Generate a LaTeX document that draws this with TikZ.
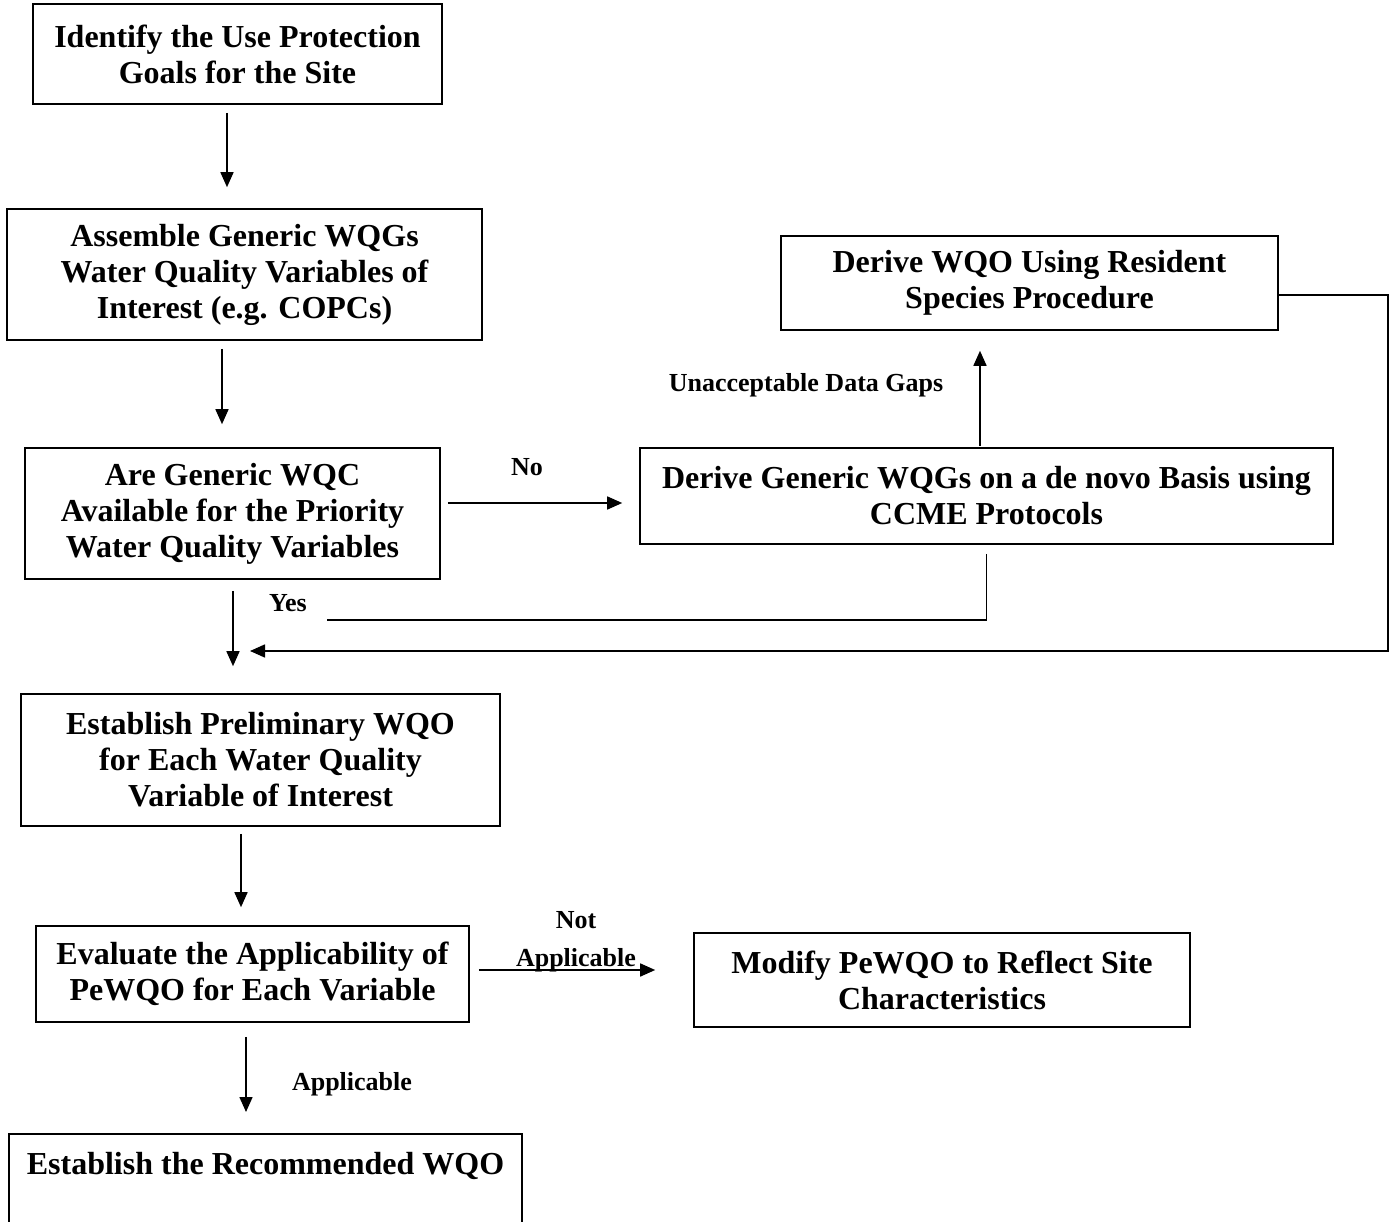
\documentclass[tikz,border=0pt]{standalone}
\usepackage{fontspec}
\setmainfont{Liberation Serif}
\usetikzlibrary{arrows.meta,calc}
\begin{document}
\begin{tikzpicture}[x=1pt,y=1pt,
  box/.style={draw,line width=1.6pt,align=center,inner sep=0pt,
    font=\fontsize{32}{36}\selectfont\bfseries,
    execute at begin node={\rule{0pt}{30pt}}},
  lbl/.style={inner sep=0pt,font=\fontsize{26}{30}\selectfont\bfseries},
  conn/.style={line width=1.6pt},
  arr/.style={conn,-{Triangle[length=15pt,width=13pt]}}]
\useasboundingbox (0,0) rectangle (1390,-1222);
\clip (0,0) rectangle (1390,-1222);
% boxes
\node[box,minimum width=409,minimum height=100] (b1) at (237.5,-54) {Identify the Use Protection\\Goals for the Site};
\node[box,minimum width=475,minimum height=131] (b2) at (244.5,-274.5) {Assemble Generic WQGs\\Water Quality Variables of\\Interest (e.g. COPCs)};
\node[box,minimum width=415,minimum height=131] (b3) at (232.5,-513.5) {Are Generic WQC\\Available for the Priority\\Water Quality Variables};
\node[box,minimum width=693,minimum height=96] (b4) at (986.5,-496) {Derive Generic WQGs on a de novo Basis using\\CCME Protocols};
\node[box,minimum width=497,minimum height=94] (b5) at (1029.5,-283) {Derive WQO Using Resident\\Species Procedure};
\node[box,minimum width=479,minimum height=132] (b6) at (260.5,-760) {Establish Preliminary WQO\\for Each Water Quality\\Variable of Interest};
\node[box,minimum width=433,minimum height=96] (b7) at (252.5,-974) {Evaluate the Applicability of\\PeWQO for Each Variable};
\node[box,minimum width=496,minimum height=94] (b8) at (942,-980) {Modify PeWQO to Reflect Site\\Characteristics};
\node[box,minimum width=513,minimum height=110,anchor=north] (b9) at (265.5,-1133) {};
\node[box,draw=none,anchor=base,execute at begin node={}] (t9) at (265.5,-1174) {Establish the Recommended WQO};
% labels
\node[lbl] (lno) at (527,-467) {No};
\node[lbl] (lgap) at (806,-385) {Unacceptable Data Gaps};
\node[lbl] (lyes) at (288,-603) {Yes};
\node[lbl] (lnot) at (576,-920) {Not};
\node[lbl] (lna) at (576,-960) {Applicable};
\node[lbl] (lapp) at (352,-1084) {Applicable};
% coordinates
\coordinate (yesend) at (327,-620);
\coordinate (rc) at (1388,-651);
\coordinate (mergept) at (250,-651);
% connectors
\draw[arr,shorten <=8pt,shorten >=21pt] ([xshift=-10.5pt]b1.south) -- ([xshift=-17.5pt]b2.north);
\draw[arr,shorten <=8pt,shorten >=23pt] ([xshift=-22.5pt]b2.south) -- ([xshift=-10.5pt]b3.north);
\draw[arr,shorten <=7pt,shorten >=17pt] ([yshift=10.5pt]b3.east) -- ([yshift=-7pt]b4.west);
\draw[arr,shorten <=1pt,shorten >=20pt] ([xshift=-6.5pt]b4.north) -- ([xshift=-49.5pt]b5.south);
\draw[conn,shorten <=9pt] (b4.south) |- (yesend);
\draw[arr] ([yshift=-12pt]b5.east) -| (rc) -- (mergept);
\draw[arr,shorten <=11pt,shorten >=27pt] ([xshift=0.5pt]b3.south) -- ([xshift=-27.5pt]b6.north);
\draw[arr,shorten <=7pt,shorten >=18pt] ([xshift=-19.5pt]b6.south) -- ([xshift=-11.5pt]b7.north);
\draw[arr,shorten <=9pt,shorten >=38pt] ([yshift=4pt]b7.east) -- ([yshift=10pt]b8.west);
\draw[arr,shorten <=14pt,shorten >=21pt] ([xshift=-6.5pt]b7.south) -- ([xshift=-19.5pt]b9.north);
\end{tikzpicture}
\end{document}
